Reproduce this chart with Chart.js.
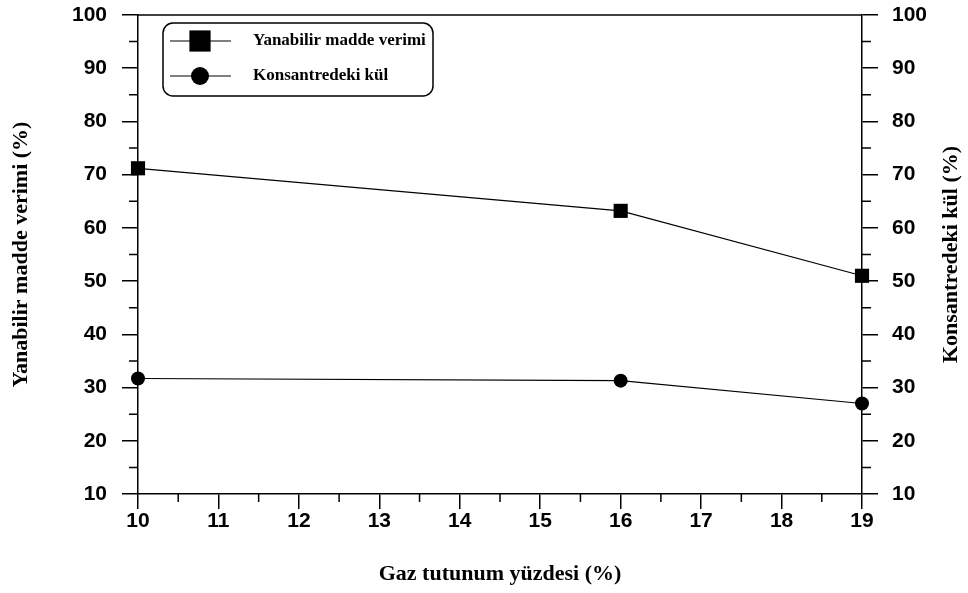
<!DOCTYPE html>
<html>
<head>
<meta charset="utf-8">
<script src="https://cdn.jsdelivr.net/npm/chart.js@4.4.1/dist/chart.umd.min.js"></script>
<style>
  html, body { margin: 0; padding: 0; background: #fff; }
  #chart { display: block; }
</style>
</head>
<body>
<canvas id="chart" width="968" height="593"></canvas>
<script>
// values
const gasHoldup = [10, 16, 19];
const combustibleYield = [71.2, 63.2, 51.0];
const concentrateAsh = [31.7, 31.3, 27.0];

const xMinorTicks = [10.5, 11.5, 12.5, 13.5, 14.5, 15.5, 16.5, 17.5, 18.5];
const yMinorTicks = [15, 25, 35, 45, 55, 65, 75, 85, 95];

const xTitle = 'Gaz tutunum yüzdesi (%)';
const yTitle = 'Yanabilir madde verimi (%)';
const y2Title = 'Konsantredeki kül (%)';

const tickFont = { family: 'Liberation Sans', size: 21, weight: 'bold' };
const titleFont = { family: 'Liberation Serif', size: 22, weight: 'bold' };

const frameAndExtras = {
    id: 'frameAndExtras',
    afterDraw(chart) {
        const ctx = chart.ctx;
        const { left, right, top, bottom } = chart.chartArea;
        const x = chart.scales.x;
        const y = chart.scales.y;

        ctx.save();
        ctx.strokeStyle = '#000';
        ctx.lineWidth = 1.5;

        // top edge of the frame
        ctx.beginPath();
        ctx.moveTo(left, top);
        ctx.lineTo(right, top);
        ctx.stroke();

        // minor ticks
        ctx.beginPath();
        xMinorTicks.forEach(v => {
            const px = x.getPixelForValue(v);
            ctx.moveTo(px, bottom);
            ctx.lineTo(px, bottom + 8);
        });
        yMinorTicks.forEach(v => {
            const py = y.getPixelForValue(v);
            ctx.moveTo(left - 9, py);
            ctx.lineTo(left, py);
            ctx.moveTo(right, py);
            ctx.lineTo(right + 9, py);
        });
        ctx.stroke();

        // right title, reading bottom to top like the left one
        ctx.fillStyle = '#000';
        ctx.font = `bold ${titleFont.size}px ${titleFont.family}`;
        ctx.textAlign = 'center';
        ctx.textBaseline = 'middle';
        ctx.translate(951, (top + bottom) / 2);
        ctx.rotate(-Math.PI / 2);
        ctx.fillText(y2Title, 0, 0);
        ctx.restore();

        // legend box
        const bx = left + 25, by = top + 8, bw = 270, bh = 73;
        ctx.save();
        ctx.strokeStyle = '#000';
        ctx.lineWidth = 1.5;
        ctx.beginPath();
        ctx.roundRect(bx, by, bw, bh, 10);
        ctx.stroke();

        ctx.font = 'bold 17px Liberation Serif';
        ctx.textAlign = 'left';
        ctx.textBaseline = 'middle';
        chart.data.datasets.forEach((ds, i) => {
            const ly = by + 18 + i * 35;
            ctx.beginPath();
            ctx.lineWidth = 1.2;
            ctx.moveTo(bx + 7, ly);
            ctx.lineTo(bx + 68, ly);
            ctx.stroke();
            ctx.fillStyle = '#000';
            Chart.helpers.drawPoint(ctx, {
                pointStyle: ds.pointStyle,
                radius: ds.pointStyle === 'rect' ? 15 : 9,
                rotation: 0,
                borderWidth: 0
            }, bx + 37, ly);
            ctx.fillStyle = '#000';
            ctx.fillText(ds.label, bx + 90, ly);
        });
        ctx.restore();
    }
};

function noVerticalOverflow(scale) {
    scale.paddingTop = 0;
    scale.paddingBottom = 0;
}

new Chart(document.getElementById('chart'), {
    type: 'line',
    data: {
        datasets: [{
            label: 'Yanabilir madde verimi',
            data: gasHoldup.map((g, i) => ({ x: g, y: combustibleYield[i] })),
            yAxisID: 'y',
            borderColor: '#000',
            backgroundColor: '#000',
            borderWidth: 1.2,
            pointStyle: 'rect',
            pointRadius: 10,
            pointBorderWidth: 0,
            tension: 0,
            clip: false
        }, {
            label: 'Konsantredeki kül',
            data: gasHoldup.map((g, i) => ({ x: g, y: concentrateAsh[i] })),
            yAxisID: 'y2',
            borderColor: '#000',
            backgroundColor: '#000',
            borderWidth: 1.2,
            pointStyle: 'circle',
            pointRadius: 7,
            pointBorderWidth: 0,
            tension: 0,
            clip: false
        }]
    },
    options: {
        responsive: false,
        animation: false,
        layout: { padding: { top: 15, left: 0, right: 0, bottom: 0 } },
        plugins: {
            legend: { display: false },
            tooltip: { enabled: false }
        },
        scales: {
            x: {
                type: 'linear',
                min: 10,
                max: 19,
                ticks: { stepSize: 1, color: '#000', font: tickFont, padding: 0, maxRotation: 0 },
                grid: { drawOnChartArea: false, tickLength: 15, color: '#000', lineWidth: 1.5 },
                border: { color: '#000', width: 1.5 },
                title: { display: true, text: xTitle, color: '#000', font: titleFont, padding: { top: 0, bottom: 5 } },
                afterFit: scale => { scale.height = 99; }
            },
            y: {
                position: 'left',
                min: 10,
                max: 100,
                ticks: { stepSize: 10, color: '#000', font: tickFont, padding: 15 },
                grid: { drawOnChartArea: false, tickLength: 16, color: '#000', lineWidth: 1.5 },
                border: { color: '#000', width: 1.5 },
                title: { display: true, text: yTitle, color: '#000', font: titleFont, padding: { top: 8, bottom: 0 } },
                afterFit: scale => { scale.width = 138; noVerticalOverflow(scale); }
            },
            y2: {
                position: 'right',
                min: 10,
                max: 100,
                ticks: { stepSize: 10, color: '#000', font: tickFont, padding: 14 },
                grid: { drawOnChartArea: false, tickLength: 16, color: '#000', lineWidth: 1.5 },
                border: { color: '#000', width: 1.5 },
                afterFit: scale => { scale.width = 106; noVerticalOverflow(scale); }
            }
        }
    },
    plugins: [frameAndExtras]
});
</script>
</body>
</html>
